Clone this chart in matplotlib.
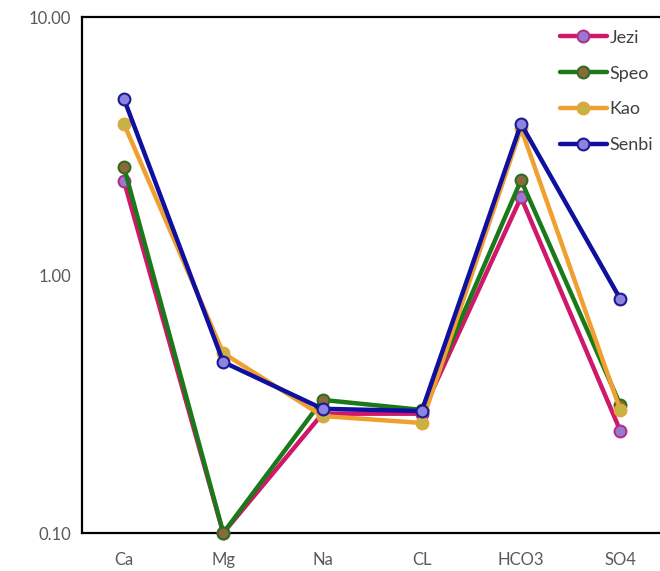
import matplotlib
matplotlib.use("Agg")
import matplotlib.pyplot as plt
from matplotlib.ticker import FixedLocator, NullLocator

ions = ["Ca", "Mg", "Na", "CL", "HCO3", "SO4"]
jezi = [2.31, 0.10, 0.29, 0.29, 2.00, 0.249]
speo = [2.62, 0.10, 0.328, 0.30, 2.33, 0.314]
kao = [3.85, 0.498, 0.284, 0.267, 3.70, 0.30]
senbi = [4.81, 0.46, 0.303, 0.297, 3.85, 0.807]

series = [
    ("Jezi", jezi, "#D0186A", "#9A78D0", "#B0308A"),
    ("Speo", speo, "#1A7A1A", "#8A6A3A", "#2E6E20"),
    ("Kao", kao, "#F0A030", "#C4B448", "#E0A838"),
    ("Senbi", senbi, "#1010A0", "#8C84E0", "#1C1C90"),
]

plt.rcParams["font.family"] = ["Lato", "DejaVu Sans"]

fig = plt.figure(figsize=(6.6, 5.71), dpi=100)
ax = fig.add_axes([82 / 660, 38 / 571, 578 / 660, 516 / 571])

x = list(range(len(ions)))
for name, vals, lc, mfc, mec in series:
    ax.plot(x, vals, color=lc, lw=3.2, marker="o", ms=8.5,
            markerfacecolor=mfc, markeredgecolor=mec, markeredgewidth=1.5,
            label=name, solid_capstyle="round", clip_on=False, zorder=3)

ax.set_yscale("log")
ax.set_ylim(0.1, 10)
ax.yaxis.set_major_locator(FixedLocator([0.1, 1, 10]))
ax.yaxis.set_minor_locator(NullLocator())
ax.set_yticklabels(["0.10", "1.00", "10.00"])
ax.set_xlim(-0.423, 5.40)
ax.set_xticks(x)
ax.set_xticklabels(ions)
ax.tick_params(length=0, labelsize=12, colors="#595959", pad=8)
ax.tick_params(axis="x", pad=14)

for s in ax.spines.values():
    s.set_color("black")
    s.set_linewidth(1.6)
ax.spines["right"].set_visible(False)

leg = ax.legend(loc="upper right", frameon=False, fontsize=13,
                handlelength=2.6, handletextpad=0.15, labelspacing=1.1,
                borderaxespad=0.3, bbox_to_anchor=(1.01, 1.0))
for t in leg.get_texts():
    t.set_color("#404040")

plt.savefig("out.png", dpi=100)
